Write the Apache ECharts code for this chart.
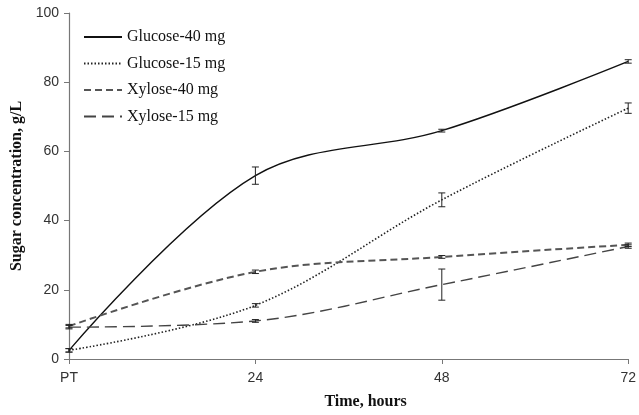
<!DOCTYPE html>
<html><head><meta charset="utf-8">
<script src="https://cdn.jsdelivr.net/npm/echarts@6/dist/echarts.min.js"></script>
<style>html,body{margin:0;padding:0;background:#fff}#c{width:639px;height:415px}</style>
</head><body><div id="c"></div>
<script>
const categories = ['PT', '24', '48', '72'];
const glucose40 = [2.5, 53, 66, 86];
const glucose40Err = [0.5, 2.5, 0.4, 0.5];
const glucose15 = [2.5, 15.5, 46, 72.5];
const glucose15Err = [0.5, 0.5, 2, 1.5];
const xylose40 = [9.5, 25.2, 29.5, 33];
const xylose40Err = [0.5, 0.5, 0.4, 0.5];
const xylose15 = [9.2, 11, 21.5, 32.5];
const xylose15Err = [0.5, 0.4, 4.5, 0.5];

const chart = echarts.init(document.getElementById('c'));
function errSeries(vals, errs) {
  return {
    type: 'custom', silent: true, z: 5,
    data: vals.map((v, i) => [i, v - errs[i], v + errs[i]]),
    renderItem: function (params, api) {
      const lo = api.coord([api.value(0), api.value(1)]);
      const hi = api.coord([api.value(0), api.value(2)]);
      const w = 3.5;
      return { type: 'group', children: [
        { type: 'line', shape: { x1: lo[0], y1: lo[1], x2: hi[0], y2: hi[1] }, style: { stroke: '#222', lineWidth: 1 } },
        { type: 'line', shape: { x1: lo[0]-w, y1: lo[1], x2: lo[0]+w, y2: lo[1] }, style: { stroke: '#222', lineWidth: 1 } },
        { type: 'line', shape: { x1: hi[0]-w, y1: hi[1], x2: hi[0]+w, y2: hi[1] }, style: { stroke: '#222', lineWidth: 1 } }
      ]};
    }
  };
}
function lineSeries(name, vals, color, type, width) {
  return { name, type: 'line', data: vals, smooth: 0.35, symbol: 'none',
    lineStyle: { color, type, width }, itemStyle: { color } };
}
chart.setOption({
  animation: false,
  grid: { left: 69, right: 8, top: 13, bottom: 53 },
  legend: {
    orient: 'vertical', left: 78, top: 24, itemGap: 10.5, itemWidth: 38, itemHeight: 14,
    itemStyle: { opacity: 0 },
    textStyle: { fontFamily: 'Liberation Serif', fontSize: 16, color: '#111' },
    data: ['Glucose-40 mg', 'Glucose-15 mg', 'Xylose-40 mg', 'Xylose-15 mg']
  },
  xAxis: {
    type: 'category', data: categories, boundaryGap: false,
    name: 'Time, hours', nameLocation: 'middle', nameGap: 35,
    nameTextStyle: { fontFamily: 'Liberation Serif', fontWeight: 'bold', fontSize: 16, color: '#111', padding: [0, 0, 0, 34] },
    axisLine: { lineStyle: { color: '#777', width: 1.2 } },
    axisTick: { alignWithLabel: true, length: 5, lineStyle: { color: '#777' } },
    axisLabel: { fontFamily: 'Liberation Sans', fontSize: 14, color: '#333', margin: 12 },
    splitLine: { show: false }
  },
  yAxis: {
    type: 'value', min: 0, max: 100, interval: 20,
    name: 'Sugar concentration, g/L', nameLocation: 'middle', nameGap: 43,
    nameTextStyle: { fontFamily: 'Liberation Serif', fontWeight: 'bold', fontSize: 16, color: '#111' },
    axisLine: { show: true, lineStyle: { color: '#777', width: 1.2 } },
    axisTick: { show: true, length: 5, lineStyle: { color: '#777' } },
    axisLabel: { fontFamily: 'Liberation Sans', fontSize: 14, color: '#333', margin: 10 },
    splitLine: { show: false }
  },
  series: [
    lineSeries('Glucose-40 mg', glucose40, '#111', 'solid', 1.4),
    lineSeries('Glucose-15 mg', glucose15, '#222', [1.5, 2], 1.6),
    lineSeries('Xylose-40 mg', xylose40, '#555', [7, 4], 2),
    lineSeries('Xylose-15 mg', xylose15, '#444', [12, 6], 1.4),
    errSeries(glucose40, glucose40Err),
    errSeries(glucose15, glucose15Err),
    errSeries(xylose40, xylose40Err),
    errSeries(xylose15, xylose15Err)
  ]
});
</script></body></html>
